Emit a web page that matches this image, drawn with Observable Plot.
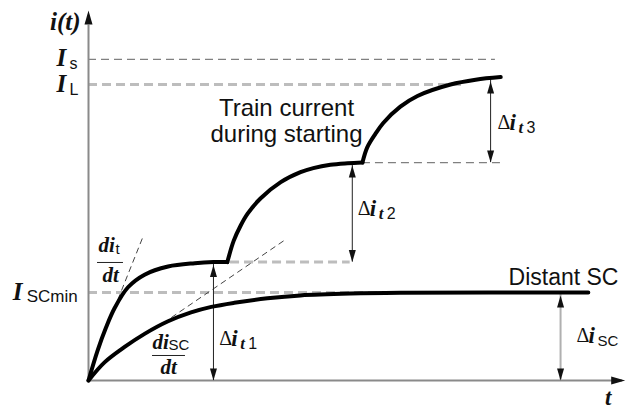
<!DOCTYPE html>
<html><head><meta charset="utf-8">
<script src="https://cdn.jsdelivr.net/npm/d3@7"></script>
<script src="https://cdn.jsdelivr.net/npm/@observablehq/plot@0.6"></script>
<style>body{margin:0;background:#fff} svg{overflow:visible}</style>
</head><body><div id="chart"></div>
<script>
// Train current during starting: three stages (t in arbitrary units 0–10, i in units 0–100)
const trainT = [0, 0.17, 0.33, 0.49, 0.74, 1.05, 1.49, 1.99, 2.34, 2.60,
                2.72, 2.85, 2.98, 3.22, 3.60, 3.97, 4.21, 4.53, 4.85, 5.13,
                5.22, 5.37, 5.52, 5.84, 6.16, 6.78, 7.25, 7.72];
const trainI = [0, 8.1, 14.4, 19.6, 25.2, 28.6, 30.8, 31.7, 32.0, 32.0,
                37.8, 41.9, 45.1, 49.2, 53.6, 56.3, 57.4, 58.3, 58.7, 58.9,
                63.0, 66.6, 69.6, 74.0, 76.9, 80.0, 81.3, 82.0];
const trainStage = [1,1,1,1,1,1,1,1,1,1, 2,2,2,2,2,2,2,2,2,2, 3,3,3,3,3,3,3,3];
// Distant short-circuit current
const scT = [0, 0.30, 0.67, 1.05, 1.49, 1.92, 2.30, 2.73, 3.35, 3.97, 4.91, 5.84, 9.36];
const scI = [0, 4.9, 9.0, 12.6, 16.0, 18.4, 19.9, 21.0, 22.2, 23.0, 23.5, 23.7, 23.8];
// Reference levels
const levelNames = ["Is", "IL", "ISCmin", "step1", "step2"];
const levelValues = [86.8, 80.0, 23.8, 32.0, 58.9];
const levelFrom = [0, 0, 0, 2.66, 5.13];
const levelTo = [7.62, 7.0, 5.8, 4.9, 7.72];
// Increment arrows
const deltaNames = ["t1", "t2", "t3", "sc"];
const deltaT = [2.34, 4.94, 7.53, 8.84];
const deltaLow = [0, 32.0, 58.9, 0];
const deltaHigh = [32.0, 58.9, 81.6, 23.8];
// Slope (tangent) lines
const tangentNames = ["dit/dt", "disc/dt"];
const tangentT0 = [0.41, 1.55], tangentI0 = [16.8, 17.0];
const tangentT1 = [1.03, 3.69], tangentI1 = [39.2, 38.1];

const train = [];
trainT.forEach((t, k) => {
  train.push({t, i: trainI[k], stage: trainStage[k]});
  if (k + 1 < trainT.length && trainStage[k + 1] !== trainStage[k])
    train.push({t, i: trainI[k], stage: trainStage[k + 1]});
});
const sc = scT.map((t, k) => ({t, i: scI[k]}));
const levels = levelNames.map((name, k) => ({name, i: levelValues[k], t1: levelFrom[k], t2: levelTo[k]}));
const deltas = deltaNames.map((name, k) => ({name, t: deltaT[k], lo: deltaLow[k], hi: deltaHigh[k]}));
const tangents = tangentNames.map((name, k) => ({name, x1: tangentT0[k], y1: tangentI0[k], x2: tangentT1[k], y2: tangentI1[k]}));

const lightLevels = levels.filter(d => ["IL", "ISCmin", "step1"].includes(d.name));
const darkLevels = levels.filter(d => ["Is", "step2"].includes(d.name));

const MATH = "'Liberation Serif', 'DejaVu Serif', serif";
const SANS = "'Liberation Sans', Arial, sans-serif";

const headUp = (len, half, off) => ({draw(ctx) { ctx.moveTo(0, off); ctx.lineTo(-half, off + len); ctx.lineTo(half, off + len); ctx.closePath(); }});
const headDown = (len, half, off) => ({draw(ctx) { ctx.moveTo(0, -off); ctx.lineTo(-half, -off - len); ctx.lineTo(half, -off - len); ctx.closePath(); }});
const headRight = (len, half) => ({draw(ctx) { ctx.moveTo(0, 0); ctx.lineTo(-len, -half); ctx.lineTo(-len, half); ctx.closePath(); }});

function piece(t, i, text, o = {}) {
  return Plot.text([{t, i, text}], {
    x: "t", y: "i", text: "text",
    textAnchor: o.anchor ?? "start", dx: o.dx ?? 0, dy: o.dy ?? 0,
    fontFamily: o.family ?? MATH, fontSize: o.size ?? 22,
    fontStyle: o.style ?? "normal", fontWeight: o.weight ?? "normal",
    lineHeight: o.lineHeight ?? 1, fill: "#111"
  });
}
const mi = (t, i, text, o = {}) => piece(t, i, text, {style: "italic", weight: "bold", ...o});
const sub = (t, i, text, o = {}) => piece(t, i, text, {family: SANS, size: 15, ...o});

function deltaLabel(t, i, name) {
  const marks = [piece(t, i, "Δ", {size: 20}), mi(t, i, "i", {dx: 12, size: 23})];
  if (name === "sc") marks.push(sub(t, i, "SC", {dx: 21, dy: 6}));
  else {
    marks.push(mi(t, i, "t", {dx: 21, dy: 5, size: 17}));
    marks.push(sub(t, i, name.slice(1), {dx: 29, dy: 5, size: 16}));
  }
  return marks;
}

const chart = Plot.plot({
  width: 626, height: 410,
  marginLeft: 88, marginRight: 4, marginTop: 10, marginBottom: 30,
  x: {domain: [0, 10], axis: null},
  y: {domain: [0, 100], axis: null},
  marks: [
    // reference levels
    Plot.ruleY(lightLevels, {y: "i", x1: "t1", x2: "t2", stroke: "#bdbdbd", strokeWidth: 3, strokeDasharray: "9,5"}),
    Plot.ruleY(darkLevels, {y: "i", x1: "t1", x2: "t2", stroke: "#808080", strokeWidth: 1.2, strokeDasharray: "8,5"}),
    // axes
    Plot.ruleX([0], {y1: 0, y2: 96, stroke: "#8a8a8a", strokeWidth: 2}),
    Plot.ruleY([0], {x1: 0, x2: 10, stroke: "#8a8a8a", strokeWidth: 2}),
    Plot.dot([{t: 0, i: 100}], {x: "t", y: "i", symbol: headUp(14, 4, 0), fill: "#111", stroke: "none"}),
    Plot.dot([{t: 10.05, i: 0}], {x: "t", y: "i", symbol: headRight(14, 4), fill: "#111", stroke: "none"}),
    // tangents
    Plot.link(tangents, {x1: "x1", y1: "y1", x2: "x2", y2: "y2", stroke: "#444", strokeWidth: 1, strokeDasharray: "6,4"}),
    // increment arrows
    Plot.ruleX(deltas.filter(d => d.name !== "sc"), {x: "t", y1: "lo", y2: "hi", stroke: "#222", strokeWidth: 1}),
    Plot.ruleX(deltas.filter(d => d.name === "sc"), {x: "t", y1: "lo", y2: "hi", stroke: "#b0b0b0", strokeWidth: 2}),
    Plot.dot(deltas, {x: "t", y: "hi", symbol: headUp(12, 3.5, 3), fill: "#111", stroke: "none"}),
    Plot.dot(deltas, {x: "t", y: "lo", symbol: headDown(12, 3.5, 0), fill: "#111", stroke: "none"}),
    // curves
    Plot.line(sc, {x: "t", y: "i", stroke: "#000", strokeWidth: 4, curve: "catmull-rom"}),
    Plot.line(train, {x: "t", y: "i", z: "stage", stroke: "#000", strokeWidth: 4, curve: "catmull-rom", strokeLinejoin: "round"}),
    // fraction bars
    Plot.ruleY([31.9], {x1: 0.169, x2: 0.655, stroke: "#222", strokeWidth: 1}),
    Plot.ruleY([6.76], {x1: 1.199, x2: 1.816, stroke: "#222", strokeWidth: 1}),
    // axis labels
    mi(-0.15, 96.8, "i(t)", {anchor: "end", size: 25}),
    mi(9.73, -4.6, "t", {anchor: "middle", size: 23}),
    // level labels
    mi(-0.60, 87.2, "I", {size: 25}), sub(-0.60, 87.2, "s", {dx: 13, dy: 6, size: 16}),
    mi(-0.60, 80.1, "I", {size: 25}), sub(-0.60, 80.1, "L", {dx: 13, dy: 6, size: 16}),
    mi(-1.42, 23.9, "I", {size: 25}), sub(-1.42, 23.9, "SCmin", {dx: 14, dy: 4, size: 17}),
    // fractions
    mi(0.187, 36.5, "di", {size: 21}), sub(0.187, 36.5, "t", {dx: 17, dy: 4, size: 15}),
    mi(0.262, 28.4, "dt", {size: 21}),
    mi(1.199, 10.3, "di", {size: 21}), sub(1.199, 10.3, "SC", {dx: 16, dy: 3, size: 15}),
    mi(1.348, 3.5, "dt", {size: 21}),
    // increment labels
    ...deltaLabel(2.45, 11.35, "t1"),
    ...deltaLabel(5.04, 46.5, "t2"),
    ...deltaLabel(7.66, 69.7, "t3"),
    ...deltaLabel(9.14, 12.2, "sc"),
    // text labels
    piece(3.708, 70.3, "Train current\nduring starting", {family: SANS, size: 24, anchor: "middle", lineHeight: 1.1}),
    piece(9.925, 27.8, "Distant SC", {family: SANS, size: 23, anchor: "end"})
  ]
});
document.getElementById("chart").append(chart);
</script>
</body></html>
